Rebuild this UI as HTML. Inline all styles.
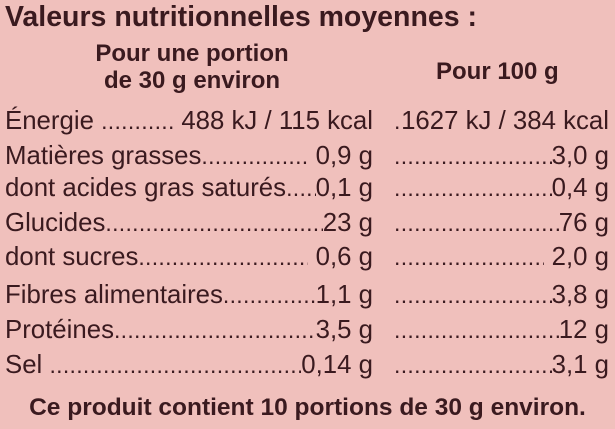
<!DOCTYPE html>
<html><head><meta charset="utf-8"><style>
body{margin:0;width:615px;height:429px;background:#f0c0bc;color:#3a1a1f;font-family:"Liberation Sans",sans-serif;overflow:hidden;position:relative}
.a{position:absolute;white-space:nowrap}
.b{font-weight:bold}
.row{position:absolute;left:5px;width:604px;height:30px;line-height:30px;font-size:25.8px;display:flex}
.c1{width:368px;display:flex;min-width:0}
.c2{margin-left:21px;flex:1;display:flex;min-width:0}
.d{flex:1;min-width:0;overflow:hidden;white-space:nowrap;letter-spacing:0.3px;font-size:23px}
.l{white-space:nowrap;flex:none}
</style></head><body>
<div class="a b" style="left:5px;top:2px;font-size:28.5px;line-height:30px">Valeurs nutritionnelles moyennes :</div>
<div class="a b" style="left:86px;top:40px;width:212px;text-align:center;font-size:24px;line-height:27px">Pour une portion<br>de 30 g environ</div>
<div class="a b" style="left:436px;top:58px;font-size:24px;line-height:28px">Pour 100 g</div>
<div class="row" style="top:106px"><div class="c1"><span class="l">Énergie&nbsp;</span><span class="d">..................................................</span><span class="l">&nbsp;488 kJ / 115 kcal</span></div><div class="c2"><span class="d">..................................................</span><span class="l">1627 kJ / 384 kcal</span></div></div>
<div class="row" style="top:141px"><div class="c1"><span class="l">Matières grasses</span><span class="d">..................................................</span><span class="l">&nbsp;0,9 g</span></div><div class="c2"><span class="d">..................................................</span><span class="l">3,0 g</span></div></div>
<div class="row" style="top:173px"><div class="c1"><span class="l">dont acides gras saturés</span><span class="d">..................................................</span><span class="l">0,1 g</span></div><div class="c2"><span class="d">..................................................</span><span class="l">0,4 g</span></div></div>
<div class="row" style="top:208px"><div class="c1"><span class="l">Glucides</span><span class="d">..................................................</span><span class="l">23 g</span></div><div class="c2"><span class="d">..................................................</span><span class="l">76 g</span></div></div>
<div class="row" style="top:242px"><div class="c1"><span class="l">dont sucres</span><span class="d">..................................................</span><span class="l">&nbsp;0,6 g</span></div><div class="c2"><span class="d">..................................................</span><span class="l">&nbsp;2,0 g</span></div></div>
<div class="row" style="top:280px"><div class="c1"><span class="l">Fibres alimentaires</span><span class="d">..................................................</span><span class="l">1,1 g</span></div><div class="c2"><span class="d">..................................................</span><span class="l">3,8 g</span></div></div>
<div class="row" style="top:315px"><div class="c1"><span class="l">Protéines</span><span class="d">..................................................</span><span class="l">3,5 g</span></div><div class="c2"><span class="d">..................................................</span><span class="l">12 g</span></div></div>
<div class="row" style="top:350px"><div class="c1"><span class="l">Sel&nbsp;</span><span class="d">..................................................</span><span class="l">0,14 g</span></div><div class="c2"><span class="d">..................................................</span><span class="l">3,1 g</span></div></div>
<div class="a b" style="left:0;width:615px;text-align:center;top:394px;font-size:24.5px;line-height:28px">Ce produit contient 10 portions de 30 g environ.</div>
</body></html>
